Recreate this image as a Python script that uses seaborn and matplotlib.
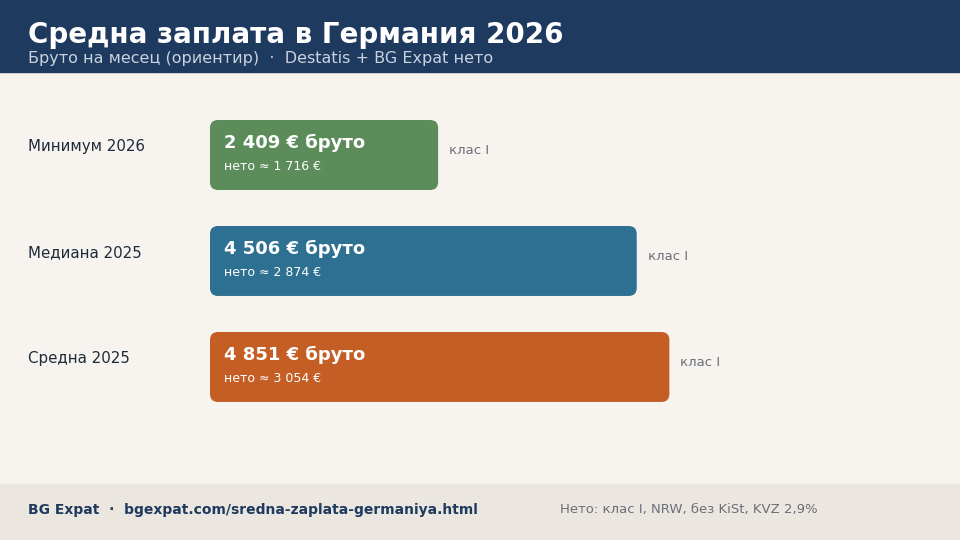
import matplotlib
matplotlib.use("Agg")
import matplotlib.pyplot as plt
import seaborn as sns
import pandas as pd
from matplotlib.patches import FancyBboxPatch, Rectangle

categories = ["Минимум 2026", "Медиана 2025", "Средна 2025"]
gross = [2409, 4506, 4851]
net = [1716, 2874, 3054]
tax_class = ["клас I", "клас I", "клас I"]
colors = ["#5b8c5a", "#2e7091", "#c45e25"]

def fmt(v):
    return f"{v:,}".replace(",", " ")

sns.set_theme(style="white")
plt.rcParams['font.family'] = ['DejaVu Sans']
W, H = 960, 540
fig = plt.figure(figsize=(9.6, 5.4), dpi=100)
fig.patch.set_facecolor("#f7f4ef")
fig.add_artist(Rectangle((0, 1 - 72 / H), 1, 72 / H, transform=fig.transFigure, color="#1f3a5f", zorder=0))
fig.add_artist(Rectangle((0, 0), 1, 56 / H, transform=fig.transFigure, color="#ebe6df", zorder=0))
fig.text(28 / W, 1 - 35 / H, "Средна заплата в Германия 2026", color="white", fontsize=20, fontweight="bold", va="center")
fig.text(28 / W, 1 - 58 / H, "Бруто на месец (ориентир)  ·  Destatis + BG Expat нето", color="#c9d3e0", fontsize=11.5, va="center")
fig.text(28 / W, 30 / H, "BG Expat  ·  bgexpat.com/sredna-zaplata-germaniya.html", color="#1f3a5f", fontsize=10, fontweight="bold", va="center")
fig.text(560 / W, 30 / H, "Нето: клас I, NRW, без KiSt, KVZ 2,9%", color="#6b6f78", fontsize=9.5, va="center")

ax = fig.add_axes([210 / W, 56 / H, 750 / W, 412 / H])
ax.set_facecolor("none")
df = pd.DataFrame({"cat": categories, "gross": gross})
sns.barplot(data=df, x="gross", y="cat", hue="cat", palette=colors, orient="h", width=0.66, ax=ax, legend=False)
xmax = 750 / 0.0947
ax.set_xlim(0, xmax)
ax.set_ylim(3.104, -0.783)
ax.axis("off")
px_x = xmax / 750
r = 8 * px_x
asp = (8 / 106) / r
for p, c in zip(list(ax.patches), colors):
    x, y, w, h = p.get_x(), p.get_y(), p.get_width(), p.get_height()
    p.remove()
    ax.add_patch(FancyBboxPatch((x, y), w, h, boxstyle=f"round,pad=0,rounding_size={r}",
                                mutation_aspect=asp, facecolor=c, edgecolor="none"))
for i, (cat, g, n, t) in enumerate(zip(categories, gross, net, tax_class)):
    fig.text(28 / W, 1 - (147 + 106 * i) / H, cat, color="#1f2a3a", fontsize=10.8, va="center")
    ax.text(14 * px_x, i - 12 / 106, f"{fmt(g)} € бруто", color="white", fontsize=13, fontweight="bold", va="center")
    ax.text(14 * px_x, i + 12 / 106, f"нето ≈ {fmt(n)} €", color="white", fontsize=9, va="center")
    ax.text(g + 11 * px_x, i - 4 / 106, t, color="#6b6f78", fontsize=9.5, va="center")
fig.savefig("out.png", dpi=100, facecolor=fig.get_facecolor())
